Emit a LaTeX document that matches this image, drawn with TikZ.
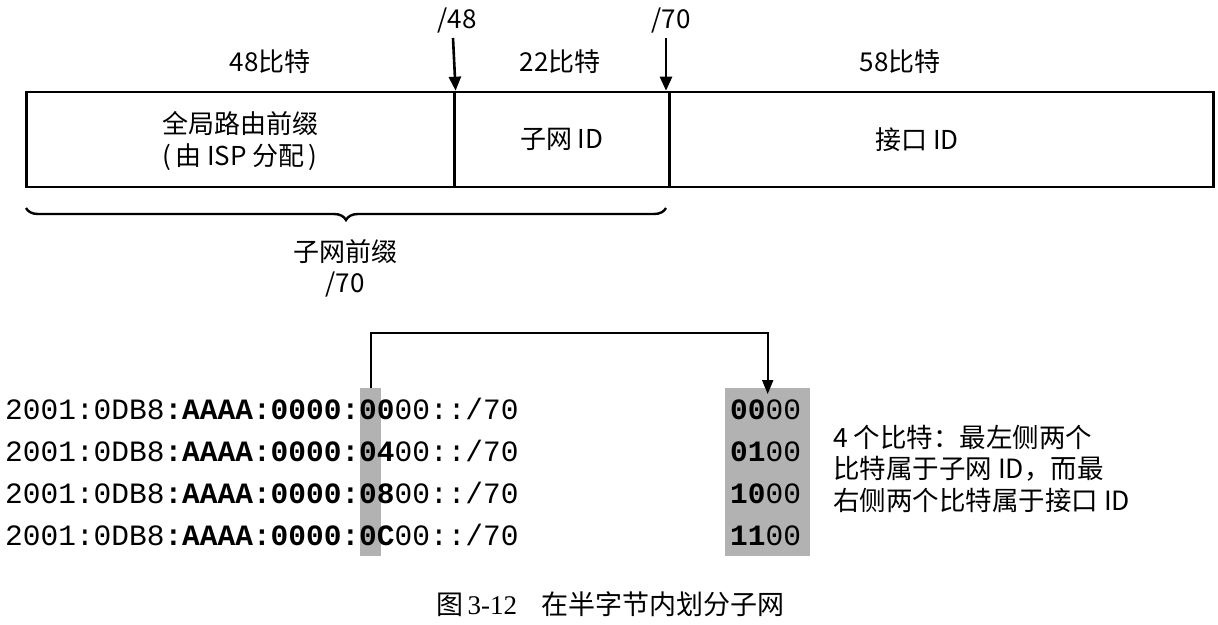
\documentclass[tikz,border=0pt]{standalone}
\usepackage{fontspec}
\setmainfont{Liberation Sans}
\newfontfamily\cjk{Noto Sans CJK SC}
\newfontfamily\mono{Liberation Mono}
\newfontfamily\serifnum{Liberation Serif}
\usetikzlibrary{decorations.pathreplacing,arrows.meta}
\definecolor{shade}{gray}{0.70}
\begin{document}
\begin{tikzpicture}[x=1pt,y=-1pt,
  seg/.style={draw,line width=2.6pt,inner sep=0pt,minimum height=95pt,anchor=west},
  lbl/.style={font=\cjk\fontsize{26}{31}\selectfont,inner sep=0pt},
  addr/.style={font=\mono\fontsize{29.5}{30}\selectfont,inner sep=0pt,anchor=base west},
  note/.style={font=\cjk\fontsize{26.5}{30}\selectfont,inner sep=0pt,anchor=base west},
  arr/.style={line width=2.6pt,-{Triangle[length=14pt,width=12pt]}},
  conn/.style={line width=2pt,-{Triangle[length=14pt,width=11pt]}}]
\useasboundingbox (0,0) rectangle (1218,624);
% top box
\node[seg,minimum width=428pt] (s1) at (25,139.5) {};
\node[seg,minimum width=215pt] (s2) at (453,139.5) {};
\node[seg,minimum width=544pt] (s3) at (668,139.5) {};
\node[lbl,align=center] (t1) at (240,141) {全局路由前缀\\[1pt](\,由 ISP 分配\,)};
\node[lbl] (t2) at (s2.center) {子网 ID};
\node[lbl] (t3) at (917,139.5) {接口 ID};
% bit labels
\node[lbl] (b48) at (270,62) {48比特};
\node[lbl] (b22) at (560,62) {22比特};
\node[lbl] (b58) at (900,62) {58比特};
% arrows
\node[lbl] (p48) at (457,21) {/48};
\node[lbl] (p70) at (671,21) {/70};
\coordinate (a48) at (453,38);
\coordinate (a70) at (666,38);
\draw[arr] (a48) -- (s1.north east);
\draw[arr] (a70) -- (a70 |- s2.north);
% brace
\coordinate (br1) at (26,208);
\coordinate (br2) at (666,208);
\draw[line width=2.4pt,decorate,decoration={brace,mirror,amplitude=12pt}] (br1) -- (br2);
\node[lbl,align=center] (sp) at (345,268) {子网前缀\\[0pt]/70};
% shading
\node[fill=shade,inner sep=0pt,minimum width=21pt,minimum height=168pt,anchor=north west] (hl) at (360,388) {};
\node[fill=shade,inner sep=0pt,minimum width=85pt,minimum height=168pt,anchor=north west] (bits) at (725,388) {};
% addresses
\node[addr] (l1) at (5,419) {2001:0DB8\textbf{:AAAA:0000:00}00::/70};
\node[addr] (l2) at (5,461) {2001:0DB8\textbf{:AAAA:0000:04}00::/70};
\node[addr] (l3) at (5,503) {2001:0DB8\textbf{:AAAA:0000:08}00::/70};
\node[addr] (l4) at (5,545) {2001:0DB8\textbf{:AAAA:0000:0C}00::/70};
\node[addr] (r1) at (730,419) {\textbf{00}00};
\node[addr] (r2) at (730,461) {\textbf{01}00};
\node[addr] (r3) at (730,503) {\textbf{10}00};
\node[addr] (r4) at (730,545) {\textbf{11}00};
% connector
\draw[conn] (hl.north) -- ++(0,-55) -| ([yshift=-6pt]bits.north);
% note
\node[note] (n1) at (833,447) {4 个比特：最左侧两个};
\node[note] (n2) at (833,478) {比特属于子网 ID，而最};
\node[note] (n3) at (833,510) {右侧两个比特属于接口 ID};
% caption
\node[font=\fontsize{27}{30}\selectfont,inner sep=0pt] (cap) at (610,604) {{\cjk 图}\,{\serifnum 3-12}\hspace{24pt}{\cjk 在半字节内划分子网}};
\end{tikzpicture}
\end{document}
